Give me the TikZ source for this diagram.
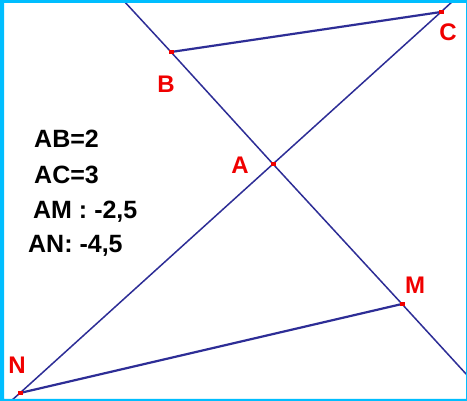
\documentclass[tikz,border=0pt]{standalone}
\usepackage{fontspec}
\setmainfont{Liberation Sans}
\definecolor{lineblue}{RGB}{45,45,150}
\definecolor{ptred}{RGB}{240,0,0}
\definecolor{cadre}{RGB}{0,190,255}
\begin{document}
\begin{tikzpicture}[x=1pt,y=-1pt,
  droite/.style={draw=lineblue,line width=1.5pt},
  segment/.style={draw=lineblue,line width=2.2pt},
  pointrouge/.style={rectangle,fill=ptred,minimum width=5pt,minimum height=4pt,inner sep=0pt},
  nom/.style={text=ptred,font=\bfseries\fontsize{24}{28}\selectfont},
  mesure/.style={anchor=base west,inner sep=0pt,font=\bfseries\fontsize{25}{29}\selectfont}
]
\useasboundingbox (0,0) rectangle (467,401);
\fill[white] (0,0) rectangle (467,401);
% points de la figure
\coordinate (A) at (273,164);
\coordinate (B) at (171,52);
\coordinate (C) at (441,12);
\coordinate (M) at (402,304);
\coordinate (N) at (20,393);
\coordinate (BMtop) at (123,0);
\coordinate (BMend) at (467,375);
\coordinate (NCtop) at (454,0);
\coordinate (NCend) at (11,401);
% droites (BM) et (NC), segments [BC] et [NM]
\draw[droite] (BMtop) -- (B) -- (A) -- (M) -- (BMend);
\draw[droite] (NCend) -- (N) -- (A) -- (C) -- (NCtop);
\draw[segment] (B) -- (C);
\draw[segment] (N) -- (M);
\node[pointrouge] (pA) at (A) {};
\node[pointrouge] (pB) at (B) {};
\node[pointrouge] (pC) at (C) {};
\node[pointrouge] (pM) at (M) {};
\node[pointrouge] (pN) at (N) {};
\node[nom] (lA) at (240,165) {A};
\node[nom] (lB) at (166,84) {B};
\node[nom] (lC) at (448,32) {C};
\node[nom] (lM) at (415,285) {M};
\node[nom] (lN) at (17,365) {N};
% mesures
\node[mesure] (mAB) at (34,148) {AB=2};
\node[mesure] (mAC) at (34,184) {AC=3};
\node[mesure] (mAM) at (33,219) {AM : -2,5};
\node[mesure] (mAN) at (28,253) {AN: -4,5};
\fill[cadre,even odd rule] (0,0) rectangle (467,401) (4,3) rectangle (466,399);
\end{tikzpicture}
\end{document}
